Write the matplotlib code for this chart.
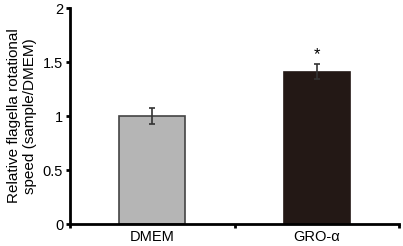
import matplotlib.pyplot as plt

plt.rcParams['font.family'] = ['Liberation Sans', 'DejaVu Sans']

# data
groups = ['DMEM', 'GRO-α']
values = [1.0, 1.41]
errors = [0.075, 0.07]
colors = ['#b5b5b5', '#231815']
edges = ['#444444', '#231815']

fig = plt.figure(figsize=(4.03, 2.46), dpi=100)
ax = fig.add_axes([0.174, 0.089, 0.816, 0.878])

x = [0, 1]
ax.bar(x, values, width=0.4, color=colors, edgecolor=edges, linewidth=1.2,
       yerr=errors, error_kw=dict(ecolor='#333333', elinewidth=1.2, capsize=2.2, capthick=1.2))
ax.text(1, values[1] + errors[1] + 0.02, '*', ha='center', va='bottom', fontsize=12)

ax.set_xlim(-0.5, 1.5)
ax.set_ylim(0, 2)
ax.set_yticks([0, 0.5, 1, 1.5, 2])
ax.set_yticklabels(['0', '0.5', '1', '1.5', '2'])
ax.set_xticks([-0.5, 0.5, 1.5])
ax.set_xticklabels([])
ax.set_xticks(x, minor=True)
ax.set_xticklabels(groups, minor=True)
ax.tick_params(axis='x', which='minor', length=0, labelsize=10.5, pad=4)
ax.tick_params(axis='x', which='major', length=3, width=2)
ax.tick_params(axis='y', length=3, width=2, labelsize=10.5, pad=2)

for s in ['top', 'right']:
    ax.spines[s].set_visible(False)
for s in ['left', 'bottom']:
    ax.spines[s].set_linewidth(2)

ax.set_ylabel('Relative flagella rotational\nspeed (sample/DMEM)', fontsize=11, labelpad=4)

fig.savefig('out.png', dpi=100)
